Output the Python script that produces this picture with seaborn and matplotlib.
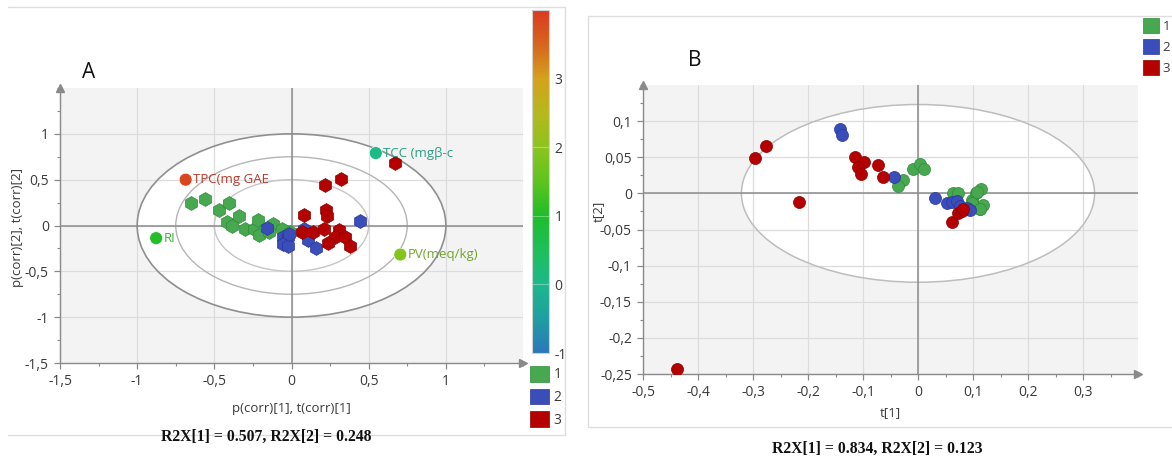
import numpy as np
import pandas as pd
import matplotlib
matplotlib.use("Agg")
import matplotlib.pyplot as plt
import seaborn as sns
from matplotlib.patches import Ellipse, Patch
from matplotlib.colors import LinearSegmentedColormap, Normalize
from matplotlib.cm import ScalarMappable
from matplotlib.ticker import FuncFormatter, MultipleLocator, FixedLocator
from matplotlib.lines import Line2D

# ---------------- data ----------------
# Panel A: scores (corr-scaled)
A_green_x = [-0.652, -0.561, -0.469, -0.403, -0.338, -0.415, -0.385, -0.303, -0.243, -0.217, -0.213, -0.123, -0.148, -0.063, -0.011]
A_green_y = [0.243, 0.284, 0.164, 0.248, 0.109, 0.036, 0.000, -0.036, -0.036, 0.057, -0.109, 0.019, -0.073, -0.036, -0.073]
A_blue_x = [-0.161, -0.058, -0.022, -0.054, -0.022, 0.080, 0.110, 0.158, 0.447, -0.016]
A_blue_y = [-0.025, -0.127, -0.127, -0.200, -0.229, -0.036, -0.160, -0.250, 0.044, -0.090]
A_red_x = [0.673, 0.318, 0.217, 0.225, 0.232, 0.079, 0.065, 0.139, 0.208, 0.307, 0.285, 0.344, 0.236, 0.381]
A_red_y = [0.684, 0.502, 0.441, 0.164, 0.109, 0.120, -0.076, -0.076, -0.040, -0.047, -0.120, -0.120, -0.193, -0.229]

# Panel A: loadings
load_names = ["TPC(mg GAE", "TCC (mg\u03b2-c", "RI", "PV(meq/kg)"]
load_x = [-0.686, 0.546, -0.877, 0.705]
load_y = [0.50, 0.79, -0.138, -0.317]
load_val = [3.85, 0.05, 1.05, 1.9]
label_colors = ["#b83a2c", "#2a9e84", "#3fb33a", "#6fa62a"]

# Panel B: scores
B_green_x = [-0.027, -0.037, -0.009, 0.004, 0.011, 0.064, 0.072, 0.099, 0.105, 0.115, 0.112, 0.119, 0.108, 0.098, 0.113]
B_green_y = [0.019, 0.010, 0.034, 0.041, 0.034, 0.000, 0.000, -0.009, 0.000, 0.006, -0.021, -0.016, 0.002, -0.014, -0.022]
B_blue_x = [-0.142, -0.138, -0.044, 0.031, 0.052, 0.061, 0.070, 0.076, 0.089, 0.095]
B_blue_y = [0.089, 0.081, 0.022, -0.006, -0.014, -0.012, -0.010, -0.017, -0.020, -0.023]
B_red_x = [-0.439, -0.296, -0.276, -0.216, -0.114, -0.099, -0.110, -0.104, -0.073, -0.063, 0.062, 0.072, 0.080, 0.082]
B_red_y = [-0.243, 0.049, 0.065, -0.012, 0.050, 0.043, 0.037, 0.027, 0.039, 0.022, -0.039, -0.027, -0.024, -0.021]

groups = ["1", "2", "3"]
group_colors = {"1": "#47a84f", "2": "#3b4db8", "3": "#b50000"}
group_edges = {"1": "#2f8a3a", "2": "#28379a", "3": "#8a0000"}

caption_A = "R2X[1] = 0.507, R2X[2] = 0.248"
caption_B = "R2X[1] = 0.834, R2X[2] = 0.123"

A_xticks = [-1.5, -1, -0.5, 0, 0.5, 1]
A_yticks = [-1.5, -1, -0.5, 0, 0.5, 1]
B_xticks = [-0.5, -0.4, -0.3, -0.2, -0.1, 0, 0.1, 0.2, 0.3]
B_yticks = [-0.25, -0.2, -0.15, -0.1, -0.05, 0, 0.05, 0.1]
cbar_ticks = [-1, 0, 1, 2, 3]

def frame(xs, ys, g):
    return pd.DataFrame({"x": xs, "y": ys, "group": g})

dfA = pd.concat([frame(A_green_x, A_green_y, "1"), frame(A_blue_x, A_blue_y, "2"),
                 frame(A_red_x, A_red_y, "3")], ignore_index=True)
dfB = pd.concat([frame(B_green_x, B_green_y, "1"), frame(B_blue_x, B_blue_y, "2"),
                 frame(B_red_x, B_red_y, "3")], ignore_index=True)

# ---------------- style ----------------
sns.set_theme(style="white")
plt.rcParams["font.family"] = ["Open Sans", "DejaVu Sans"]
plt.rcParams["axes.unicode_minus"] = False

W, H = 1172, 461
fig = plt.figure(figsize=(W / 100, H / 100), dpi=100)

def fx(px):
    return px / W

def fy(py):
    return 1 - py / H

cmap = LinearSegmentedColormap.from_list("simca", [
    (0.0, "#2a78b8"), (0.1, "#1f9ea2"), (0.2, "#1db88a"), (0.3, "#1ebf5a"),
    (0.4, "#1fbd2a"), (0.5, "#5ec41e"), (0.6, "#8cc41e"), (0.7, "#b6b81c"),
    (0.8, "#d4a21c"), (0.9, "#d6661e"), (1.0, "#db3a1f")])
norm = Normalize(-1, 4)

comma = FuncFormatter(lambda v, p: f"{round(v, 3):g}".replace(".", ","))
TICK_C = "#8a8a8a"
TXT_C = "#3a3a3a"
TICK_FS = 10


def style_axes(ax, xlim, ylim, xt, xmin, yt, ymin):
    ax.set_xlim(*xlim)
    ax.set_ylim(*ylim)
    ax.set_facecolor("#f3f3f3")
    ax.xaxis.set_major_locator(FixedLocator(xt))
    ax.xaxis.set_minor_locator(MultipleLocator(xmin))
    ax.yaxis.set_major_locator(FixedLocator(yt))
    ax.yaxis.set_minor_locator(MultipleLocator(ymin))
    ax.xaxis.set_major_formatter(comma)
    ax.yaxis.set_major_formatter(comma)
    ax.set_axisbelow(True)
    ax.grid(True, which="major", color="#dcdcdc", lw=0.9)
    for s in ["top", "right"]:
        ax.spines[s].set_visible(False)
    for s in ["left", "bottom"]:
        ax.spines[s].set_color(TICK_C)
        ax.spines[s].set_linewidth(1.0)
    ax.tick_params(which="both", bottom=True, left=True, direction="out", color=TICK_C)
    ax.tick_params(which="major", length=4, width=0.9, labelsize=TICK_FS, labelcolor=TXT_C, pad=4)
    ax.tick_params(which="minor", length=2.5, width=0.8)
    ax.axhline(0, color="#8c8c8c", lw=1.1, zorder=1)
    ax.axvline(0, color="#8c8c8c", lw=1.1, zorder=1)
    ax.plot([0], [1], marker="^", ms=6, color=TICK_C, transform=ax.transAxes, clip_on=False)
    ax.plot([1], [0], marker=">", ms=6, color=TICK_C, transform=ax.transAxes, clip_on=False)


# ---------------- Panel A ----------------
axA = fig.add_axes([fx(60), fy(363), fx(523 - 60), (363 - 88) / H])
style_axes(axA, (-1.5, 1.5), (-1.5, 1.5), A_xticks, 0.25, A_yticks, 0.25)
axA.add_patch(Ellipse((0, 0), 2, 2, facecolor="white", edgecolor="none", zorder=0.2))
axA.add_patch(Ellipse((0, 0), 2, 2, facecolor="none", edgecolor="#8f8f8f", lw=1.2, zorder=0.8))
axA.add_patch(Ellipse((0, 0), 1.5, 1.5, facecolor="none", edgecolor="#b5b5b5", lw=1.0, zorder=0.8))
axA.add_patch(Ellipse((0, 0), 1.0, 1.0, facecolor="none", edgecolor="#c5c5c5", lw=1.0, zorder=0.8))

for g in groups:
    sub = dfA[dfA.group == g]
    sns.scatterplot(data=sub, x="x", y="y", ax=axA, marker="h", s=100, color=group_colors[g],
                    edgecolor=group_edges[g], linewidth=0.5, legend=False, zorder=3)

load_colors = [cmap(norm(v)) for v in load_val]
axA.scatter(load_x, load_y, c=load_colors, s=85, edgecolors="#ffffff", linewidths=0.4, zorder=4)
for nm, x, y, c in zip(load_names, load_x, load_y, label_colors):
    axA.annotate(nm, (x, y), xytext=(5.5, 0), textcoords="offset points", va="center", ha="left",
                 fontsize=9.5, color=c, zorder=5)

axA.set_xlabel("p(corr)[1], t(corr)[1]", fontsize=9.5, color=TXT_C)
axA.set_ylabel("p(corr)[2], t(corr)[2]", fontsize=9.5, color=TXT_C)
axA.xaxis.set_label_coords(0.5, (363 - 408) / 275, transform=axA.transAxes)
axA.yaxis.set_label_coords((18 - 60) / 463, (363 - 227) / 275, transform=axA.transAxes)
axA.xaxis.label.set_va("center")
axA.yaxis.label.set_va("center")

# colorbar
cax = fig.add_axes([fx(532), fy(353), fx(17), (353 - 10) / H])
cb = fig.colorbar(ScalarMappable(norm=norm, cmap=cmap), cax=cax, ticks=cbar_ticks)
cb.outline.set_edgecolor("#d0d0d0")
cb.outline.set_linewidth(0.8)
cax.tick_params(length=0, labelsize=TICK_FS, labelcolor=TXT_C, pad=4)
cax.yaxis.set_major_formatter(comma)
for v in [0, 1, 2]:
    cax.axhline(v, color="white", lw=0.8, alpha=0.35)

handles = [Patch(facecolor=group_colors[g], edgecolor=group_edges[g], lw=0.5, label=g) for g in groups]
fig.legend(handles=handles, loc="upper left", bbox_to_anchor=(fx(530), fy(366)), frameon=False,
           handlelength=1.35, handleheight=1.35, handletextpad=0.35, labelspacing=0.45,
           borderpad=0, borderaxespad=0, fontsize=10, labelcolor=TXT_C)

fig.text(fx(82), fy(73), "A", fontsize=15, color="#111111", va="center", ha="left")
fig.text(fx(266), fy(437), caption_A, fontsize=11.3, fontweight="bold", family="Liberation Serif",
         ha="center", va="center", color="#111111")

# ---------------- Panel B ----------------
axB = fig.add_axes([fx(643), fy(374), fx(1138 - 643), (374 - 85) / H])
style_axes(axB, (-0.5, 0.4), (-0.25, 0.15), B_xticks, 0.05, B_yticks, 0.025)
axB.add_patch(Ellipse((0, 0), 0.642, 0.246, facecolor="white", edgecolor="none", zorder=0.2))
axB.add_patch(Ellipse((0, 0), 0.642, 0.246, facecolor="none", edgecolor="#bdbdbd", lw=1.1, zorder=0.8))

for g in groups:
    sub = dfB[dfB.group == g]
    sns.scatterplot(data=sub, x="x", y="y", ax=axB, marker="o", s=75, color=group_colors[g],
                    edgecolor=group_edges[g], linewidth=0.5, legend=False, zorder=3)

axB.set_xlabel("t[1]", fontsize=9.5, color=TXT_C)
axB.set_ylabel("t[2]", fontsize=9.5, color=TXT_C)
axB.xaxis.set_label_coords((890 - 643) / 495, (374 - 413) / 289, transform=axB.transAxes)
axB.yaxis.set_label_coords((598 - 643) / 495, (374 - 211) / 289, transform=axB.transAxes)
axB.xaxis.label.set_va("center")
axB.yaxis.label.set_va("center")

fig.legend(handles=handles, loc="upper left", bbox_to_anchor=(fx(1143), fy(18)), frameon=False,
           handlelength=1.25, handleheight=1.4, handletextpad=0.25, labelspacing=0.42,
           borderpad=0, borderaxespad=0, fontsize=9.5, labelcolor=TXT_C)

fig.text(fx(688), fy(61), "B", fontsize=15, color="#111111", va="center", ha="left")
fig.text(fx(877), fy(449), caption_B, fontsize=11.3, fontweight="bold", family="Liberation Serif",
         ha="center", va="center", color="#111111")

# ---------------- panel frames ----------------
fc = "#dedede"
for (x0, y0, x1, y1) in [(8, 7, 565, 7), (565, 7, 565, 435), (8, 435, 565, 435),
                         (588, 16, 1172, 16), (588, 16, 588, 427), (588, 427, 1172, 427)]:
    fig.add_artist(Line2D([fx(x0), fx(x1)], [fy(y0), fy(y1)], color=fc, lw=1.0,
                          transform=fig.transFigure))

fig.savefig("out.png", dpi=100)
